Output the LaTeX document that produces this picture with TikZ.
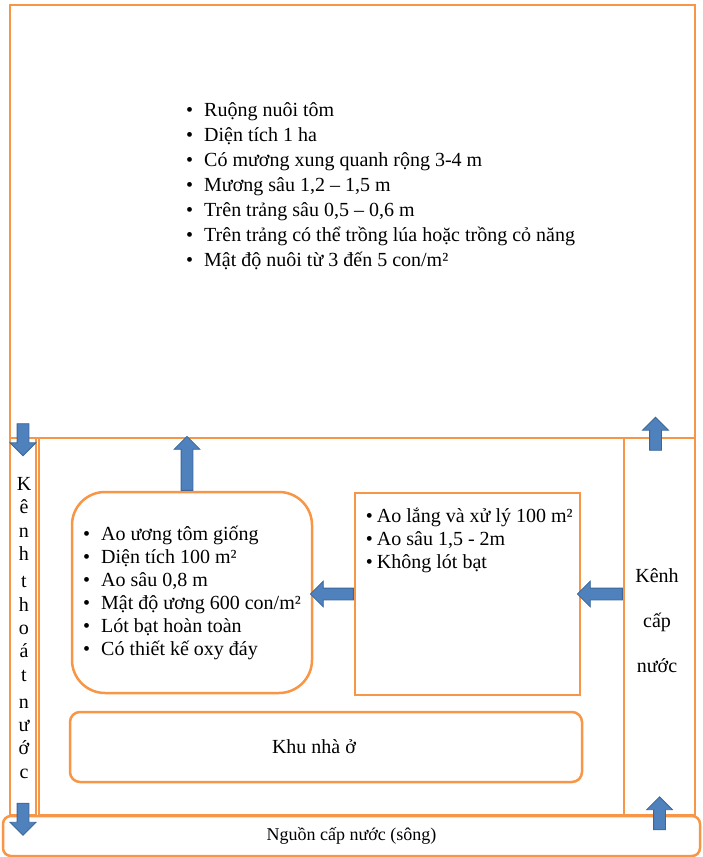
\documentclass[tikz,border=0pt]{standalone}
\usepackage{fontspec}
\setmainfont{Liberation Serif}
\usetikzlibrary{shapes.arrows, calc}

\definecolor{frameorange}{HTML}{F79646}
\definecolor{arrowfill}{HTML}{4F81BD}
\definecolor{arrowedge}{HTML}{3B6699}
\newcommand{\bul}[1]{\textbullet\hspace{11pt}#1}

\begin{document}
\begin{tikzpicture}[
    x=1pt, y=-1pt,
    zone/.style={draw=frameorange, line width=2.5pt, rectangle, inner sep=0pt},
    pond/.style={zone, rounded corners=33pt},
    listtext/.style={align=left, font=\fontsize{20}{23}\selectfont, inner sep=0pt},
    areatext/.style={align=center, font=\fontsize{20}{24}\selectfont, inner sep=0pt},
    flow/.style={single arrow, draw=arrowedge, fill=arrowfill, line width=0.8pt,
      inner sep=5.5pt, single arrow head extend=7pt, minimum width=0pt}
]
\useasboundingbox (0,0) rectangle (702,857);

% areas of the farm
\node[zone, minimum width=685pt, minimum height=433pt] (field) at (352.5,221.5) {};
\node[zone, minimum width=26pt, minimum height=377pt] (drain) at (23,626.5) {};
\node[zone, minimum width=585pt, minimum height=377pt] (farm) at (331.5,626.5) {};
\node[zone, minimum width=71pt, minimum height=377pt] (supply) at (659.5,626.5) {};
\node[zone, rounded corners=8pt, minimum width=697pt, minimum height=40pt,
  areatext, font=\fontsize{18}{22}\selectfont] (river) at (351.5,836) {Nguồn cấp nước (sông)};

% ponds and house
\node[pond, listtext, minimum width=240pt, minimum height=201pt] (nursery) at (192,592.5)
  {\bul{Ao ương tôm giống}\\ \bul{Diện tích 100 m²}\\ \bul{Ao sâu 0,8 m}\\
   \bul{Mật độ ương 600 con/m²}\\ \bul{Lót bạt hoàn toàn}\\ \bul{Có thiết kế oxy đáy}};
\node[zone, minimum width=225pt, minimum height=202pt] (settle) at (467.5,594) {};
\node[zone, rounded corners=10pt, minimum width=512pt, minimum height=70pt]
  (house) at (326,747) {};

% texts
\node[listtext, font=\fontsize{20}{25}\selectfont, anchor=north west] (fieldlist) at (186,102)
  {\bul{Ruộng nuôi tôm}\\ \bul{Diện tích 1 ha}\\ \bul{Có mương xung quanh rộng 3-4 m}\\
   \bul{Mương sâu 1,2 – 1,5 m}\\ \bul{Trên trảng sâu 0,5 – 0,6 m}\\
   \bul{Trên trảng có thể trồng lúa hoặc trồng cỏ năng}\\ \bul{Mật độ nuôi từ 3 đến 5 con/m²}};
\node[listtext, anchor=north west] (settlelist) at ($(settle.north west)+(12,16)$)
  {\textbullet\hspace{4pt}Ao lắng và xử lý 100 m²\\ \textbullet\hspace{4pt}Ao sâu 1,5 - 2m\\
   \textbullet\hspace{4pt}Không lót bạt};
\node[areatext] (housetext) at ([xshift=-12pt]house.center) {Khu nhà ở};
\node[areatext, font=\fontsize{20}{23.3}\selectfont] (draintext) at (24,628)
  {K\\ê\\n\\h\\[4pt]t\\h\\o\\á\\t\\[4pt]n\\ư\\ớ\\c};
\node[areatext, font=\fontsize{20}{45}\selectfont] (supplytext) at (657,621) {Kênh\\cấp\\nước};

% water flow
\node[flow, shape border rotate=270, minimum height=32pt] (drainin) at (drain.north) {};
\node[flow, shape border rotate=270, minimum height=32pt] (drainout) at (drain.south) {};
\node[flow, shape border rotate=90, minimum height=33pt] (supplyin) at (supply.south) {};
\node[flow, shape border rotate=90, minimum height=33pt] (supplyout) at ([xshift=-4pt]supply.north) {};
\node[flow, shape border rotate=180, minimum height=45pt, anchor=tail] (tosettle)
  at (supply.west |- settle.west) {};
\node[flow, shape border rotate=180, minimum height=43pt, anchor=tail] (tonursery)
  at (settle.west) {};
\node[flow, shape border rotate=90, minimum height=54pt, anchor=tail] (tofield)
  at ([xshift=-5pt]nursery.north) {};
\end{tikzpicture}
\end{document}
